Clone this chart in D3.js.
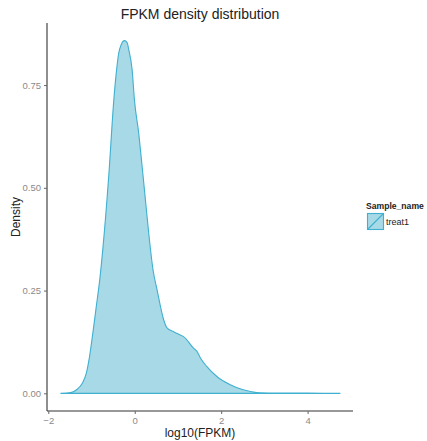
<!DOCTYPE html>
<html>
<head>
<meta charset="utf-8">
<script src="https://cdn.jsdelivr.net/npm/d3@7"></script>
<style>
  html, body { margin: 0; padding: 0; background: #fff; }
  svg { display: block; font-family: "Liberation Sans", Arial, sans-serif; }
</style>
</head>
<body>
<svg id="chart" width="427" height="441"></svg>
<script>
// Kernel density estimate of log10(FPKM) for sample treat1
const logFpkm = [-1.71, -1.48, -1.33, -1.21, -1.12, -1.045, -0.97, -0.89, -0.81, -0.74,
  -0.60, -0.484, -0.42, -0.37, -0.314, -0.238, -0.175, -0.138, -0.06, -0.007,
  0.092, 0.171, 0.247, 0.323, 0.424, 0.52, 0.669, 0.747, 0.90, 1.054,
  1.13, 1.36, 1.44, 1.52, 1.67, 1.90, 2.21, 2.51, 2.82, 3.2,
  3.6, 4.0, 4.4, 4.75];
const density = [0, 0.002, 0.010, 0.025, 0.049, 0.090, 0.146, 0.211, 0.276, 0.349,
  0.531, 0.714, 0.787, 0.828, 0.848, 0.858, 0.853, 0.836, 0.787, 0.714,
  0.633, 0.552, 0.471, 0.390, 0.300, 0.25, 0.179, 0.159, 0.150, 0.142,
  0.138, 0.110, 0.102, 0.086, 0.065, 0.041, 0.021, 0.0085, 0.002, 0.0008,
  0.0005, 0.0004, 0.0002, 0.0001];
const sampleNames = ["treat1"];
const xTicks = [-2, 0, 2, 4];
const yTicks = [0, 0.25, 0.5, 0.75];

const fillColor = "#a8d9e6";
const lineColor = "#3fb0cf";

const svg = d3.select("#chart");
const panel = { left: 47, right: 353, top: 23, bottom: 411 };

const x = d3.scaleLinear().domain([-2.03, 5.05]).range([panel.left, panel.right]);
const y = d3.scaleLinear().domain([-0.043, 0.901]).range([panel.bottom, panel.top]);

const points = logFpkm.map((v, i) => ({ x: v, y: density[i] }));

// density area, outlined all round like the polygon it is
const area = d3.area()
  .x(d => x(d.x))
  .y0(y(0))
  .y1(d => y(d.y))
  .curve(d3.curveMonotoneX);

svg.append("path")
  .datum(points)
  .attr("d", area)
  .attr("fill", fillColor)
  .attr("stroke", lineColor)
  .attr("stroke-width", 1.1)
  .attr("stroke-linejoin", "round");

// axes
const xAxis = d3.axisBottom(x).tickValues(xTicks).tickFormat(d3.format("d")).tickSize(3).tickPadding(3);
const yAxis = d3.axisLeft(y).tickValues(yTicks).tickFormat(d3.format(".2f")).tickSize(3).tickPadding(3);

const gx = svg.append("g").attr("transform", `translate(0,${panel.bottom})`).call(xAxis);
const gy = svg.append("g").attr("transform", `translate(${panel.left},0)`).call(yAxis);

[gx, gy].forEach(g => {
  g.select(".domain").attr("stroke", "#333").attr("stroke-width", 1.1);
  g.selectAll(".tick line").attr("stroke", "#666");
  g.selectAll(".tick text").attr("fill", "#8a8a8a").attr("font-size", 9.5)
    .attr("font-family", "Liberation Sans, Arial, sans-serif");
});
gx.select(".domain").attr("d", `M${panel.left},0H${panel.right}`);
gy.select(".domain").attr("d", `M0,${panel.top}V${panel.bottom}`);

// title and axis labels
svg.append("text")
  .attr("x", (panel.left + panel.right) / 2).attr("y", 19)
  .attr("text-anchor", "middle").attr("font-size", 14).attr("fill", "#222")
  .text("FPKM density distribution");

svg.append("text")
  .attr("x", (panel.left + panel.right) / 2).attr("y", 437)
  .attr("text-anchor", "middle").attr("font-size", 12).attr("fill", "#222")
  .text("log10(FPKM)");

svg.append("text")
  .attr("transform", `translate(20,${(panel.top + panel.bottom) / 2}) rotate(-90)`)
  .attr("text-anchor", "middle").attr("font-size", 12).attr("fill", "#222")
  .text("Density");

// legend
const legend = svg.append("g").attr("transform", "translate(366,0)");
legend.append("text")
  .attr("x", 0).attr("y", 209)
  .attr("font-size", 8.6).attr("font-weight", "bold").attr("fill", "#222")
  .text("Sample_name");

sampleNames.forEach((name, i) => {
  const ky = 213 + i * 18;
  legend.append("rect")
    .attr("x", 1.5).attr("y", ky + 0.5).attr("width", 16).attr("height", 16)
    .attr("fill", fillColor).attr("stroke", lineColor).attr("stroke-width", 1.1);
  legend.append("line")
    .attr("x1", 1.5).attr("y1", ky + 16.5).attr("x2", 17.5).attr("y2", ky + 0.5)
    .attr("stroke", lineColor).attr("stroke-width", 1.1);
  legend.append("text")
    .attr("x", 20).attr("y", ky + 12)
    .attr("font-size", 9).attr("fill", "#222")
    .text(name);
});
</script>
</body>
</html>
